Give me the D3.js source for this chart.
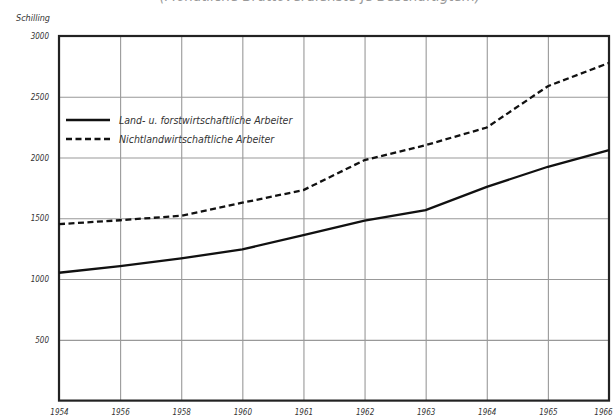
<!DOCTYPE html>
<html>
<head>
<meta charset="utf-8">
<script src="https://cdn.jsdelivr.net/npm/d3@7"></script>
<style>
  html, body { margin: 0; padding: 0; background: #fff; }
  svg text { font-family: "Liberation Sans Narrow", "DejaVu Sans Condensed", "Liberation Sans", sans-serif; font-style: italic; fill: #333; }
</style>
</head>
<body>
<div id="chart"></div>
<script>
// Jahre (gleichabständig auf der Achse)
const years = ['1954', '1956', '1958', '1960', '1961', '1962', '1963', '1964', '1965', '1966'];
// Land- u. forstwirtschaftliche Arbeiter (Schilling)
const landValues = [1052, 1107, 1170, 1244, 1362, 1480, 1567, 1759, 1924, 2061];
// Nichtlandwirtschaftliche Arbeiter (Schilling)
const nonLandValues = [1452, 1484, 1521, 1628, 1732, 1979, 2102, 2247, 2587, 2779];
const yTicks = [500, 1000, 1500, 2000, 2500, 3000];
const legendLabels = ['Land- u. forstwirtschaftliche Arbeiter', 'Nichtlandwirtschaftliche Arbeiter'];

const width = 616, height = 419;
const margin = {top: 36, right: 7, bottom: 18.4, left: 59};

const svg = d3.select('#chart').append('svg')
  .attr('width', width)
  .attr('height', height);

// Titel, im Original oben abgeschnitten
svg.append('text')
  .attr('x', 320).attr('y', 1)
  .attr('text-anchor', 'middle')
  .style('font-size', '15px')
  .style('fill', '#999')
  .text('(Monatliche Bruttoverdienste je Beschäftigtem)');

const x = d3.scalePoint()
  .domain(years)
  .range([margin.left, width - margin.right]);

const y = d3.scaleLinear()
  .domain([0, 3000])
  .range([height - margin.bottom, margin.top]);

// Gitter
svg.append('g')
  .attr('transform', `translate(0,${height - margin.bottom})`)
  .call(d3.axisBottom(x).tickSize(-(height - margin.top - margin.bottom)).tickFormat(''))
  .call(g => g.select('.domain').remove())
  .call(g => g.selectAll('line').attr('stroke', '#999').attr('stroke-width', 1.1));

svg.append('g')
  .attr('transform', `translate(${margin.left},0)`)
  .call(d3.axisLeft(y).tickValues(yTicks).tickSize(-(width - margin.left - margin.right)).tickFormat(''))
  .call(g => g.select('.domain').remove())
  .call(g => g.selectAll('line').attr('stroke', '#999').attr('stroke-width', 1.1));

// Achsenbeschriftung
svg.append('g')
  .attr('transform', `translate(0,${height - margin.bottom})`)
  .call(d3.axisBottom(x).tickSize(0).tickPadding(9))
  .call(g => g.select('.domain').remove())
  .call(g => g.selectAll('text').style('font-size', '8px'))
  .call(g => g.selectAll('text').filter(d => d === years[years.length - 1]).attr('dx', -6));

svg.append('g')
  .attr('transform', `translate(${margin.left},0)`)
  .call(d3.axisLeft(y).tickValues(yTicks).tickSize(0).tickPadding(10).tickFormat(d3.format('d')))
  .call(g => g.select('.domain').remove())
  .call(g => g.selectAll('text').style('font-size', '8px'));

svg.append('text')
  .attr('x', 16).attr('y', 21)
  .style('font-size', '9px')
  .text('Schilling');

// Rahmen
svg.append('rect')
  .attr('x', margin.left).attr('y', margin.top)
  .attr('width', width - margin.left - margin.right)
  .attr('height', height - margin.top - margin.bottom)
  .attr('fill', 'none')
  .attr('stroke', '#222')
  .attr('stroke-width', 2.2);

// Linien
const line = d3.line()
  .x((d, i) => x(years[i]))
  .y(d => y(d));

svg.append('path')
  .datum(landValues)
  .attr('fill', 'none')
  .attr('stroke', '#111')
  .attr('stroke-width', 2.3)
  .attr('d', line);

svg.append('path')
  .datum(nonLandValues)
  .attr('fill', 'none')
  .attr('stroke', '#111')
  .attr('stroke-width', 2.3)
  .attr('stroke-dasharray', '6,3.5')
  .attr('d', line);

// Legende
const legend = svg.append('g').attr('transform', 'translate(66,120)');
legendLabels.forEach((label, i) => {
  const row = legend.append('g').attr('transform', `translate(0,${i * 19})`);
  row.append('line')
    .attr('x1', 0).attr('x2', 44)
    .attr('stroke', '#111')
    .attr('stroke-width', 2.5)
    .attr('stroke-dasharray', i === 1 ? '6,3.5' : null);
  row.append('text')
    .attr('x', 53).attr('y', 4)
    .style('font-size', '10.5px')
    .text(label);
});
</script>
</body>
</html>
